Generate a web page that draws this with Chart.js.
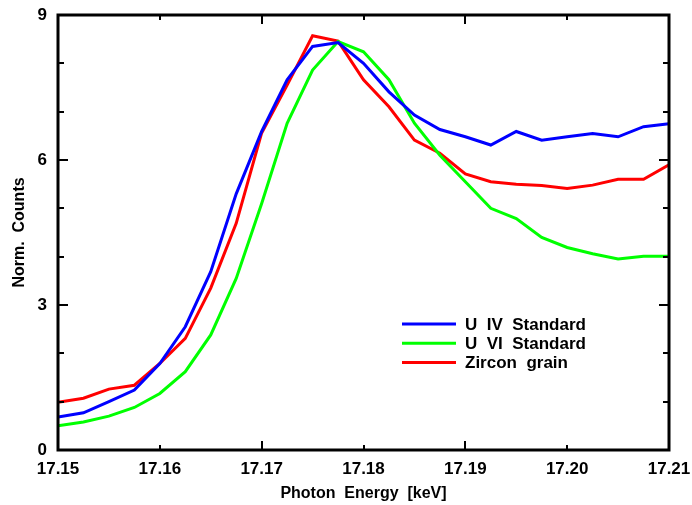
<!DOCTYPE html>
<html>
<head>
<meta charset="utf-8">
<script src="https://cdn.jsdelivr.net/npm/chart.js@4/dist/chart.umd.min.js"></script>
<style>
  html, body { margin: 0; padding: 0; background: #ffffff; }
  canvas { display: block; }
</style>
</head>
<body>
<canvas id="c" width="692" height="505"></canvas>
<script>
// ---- data ----
const energy = [17.1500, 17.1525, 17.1550, 17.1575, 17.1600, 17.1625, 17.1650, 17.1675, 17.1700,
                17.1725, 17.1750, 17.1775, 17.1800, 17.1825, 17.1850, 17.1875, 17.1900, 17.1925,
                17.1950, 17.1975, 17.2000, 17.2025, 17.2050, 17.2075, 17.2100];
const uIV = [0.68, 0.77, 1.00, 1.24, 1.79, 2.55, 3.69, 5.30, 6.59, 7.66, 8.35, 8.43, 8.00, 7.41,
             6.93, 6.63, 6.48, 6.31, 6.59, 6.41, 6.48, 6.55, 6.48, 6.69, 6.75];
const uVI = [0.50, 0.58, 0.70, 0.88, 1.17, 1.62, 2.38, 3.55, 5.10, 6.76, 7.86, 8.45, 8.24, 7.66,
             6.76, 6.10, 5.55, 5.00, 4.79, 4.40, 4.19, 4.06, 3.95, 4.01, 4.01];
const zircon = [0.99, 1.07, 1.26, 1.34, 1.79, 2.31, 3.35, 4.69, 6.56, 7.55, 8.57, 8.46, 7.66, 7.10,
                6.41, 6.14, 5.71, 5.55, 5.50, 5.47, 5.41, 5.48, 5.60, 5.60, 5.90];
const seriesLabels = ['U  IV  Standard', 'U  VI  Standard', 'Zircon  grain'];
const xTickValues = [17.15, 17.16, 17.17, 17.18, 17.19, 17.20, 17.21];
const yLabelValues = [0, 3, 6, 9];
const yTickValues = [0, 1, 2, 3, 4, 5, 6, 7, 8, 9];
const xTitle = 'Photon  Energy  [keV]';
const yTitle = 'Norm.  Counts';

const FONT = '"Liberation Sans", Arial, sans-serif';

function pts(ys) { return energy.map((x, i) => ({ x: x, y: ys[i] })); }

const framePlugin = {
  id: 'frameTicks',
  afterDatasetsDraw(chart) {
    const { ctx, chartArea: a, scales } = chart;
    const xs = scales.x, ys = scales.y;
    ctx.save();
    ctx.strokeStyle = '#000';
    ctx.lineWidth = 3;
    ctx.strokeRect(a.left, a.top, a.right - a.left, a.bottom - a.top);
    ctx.lineWidth = 2;
    ctx.beginPath();
    yTickValues.forEach(v => {
      const y = Math.round(ys.getPixelForValue(v));
      const len = (v % 3 === 0) ? 10 : 6;
      ctx.moveTo(a.left, y); ctx.lineTo(a.left + len, y);
      ctx.moveTo(a.right, y); ctx.lineTo(a.right - len, y);
    });
    xTickValues.forEach((v, i) => {
      const x = Math.round(xs.getPixelForValue(v));
      const len = (i % 2 === 0) ? 9 : 5;
      ctx.moveTo(x, a.bottom); ctx.lineTo(x, a.bottom - len);
      ctx.moveTo(x, a.top); ctx.lineTo(x, a.top + len);
    });
    ctx.stroke();

    // legend
    const lx0 = 402, lx1 = 456, tx = 465, ly0 = 324, dy = 19.3;
    ctx.font = 'bold 17px ' + FONT;
    ctx.textBaseline = 'middle';
    ctx.textAlign = 'left';
    chart.data.datasets.forEach((ds, i) => {
      const y = ly0 + i * dy;
      ctx.strokeStyle = ds.borderColor;
      ctx.lineWidth = 3;
      ctx.beginPath();
      ctx.moveTo(lx0, y); ctx.lineTo(lx1, y);
      ctx.stroke();
      ctx.fillStyle = '#000';
      ctx.fillText(ds.label, tx, y + 1);
    });
    ctx.restore();
  }
};

new Chart(document.getElementById('c'), {
  type: 'line',
  data: {
    datasets: [
      { label: seriesLabels[0], data: pts(uIV), borderColor: '#0000ff' },
      { label: seriesLabels[1], data: pts(uVI), borderColor: '#00ff00' },
      { label: seriesLabels[2], data: pts(zircon), borderColor: '#ff0000' }
    ]
  },
  options: {
    responsive: false,
    devicePixelRatio: 1,
    animation: false,
    layout: { padding: { left: 0, right: 23, top: 15, bottom: 0 } },
    elements: {
      line: { borderWidth: 3, tension: 0, fill: false },
      point: { radius: 0 }
    },
    plugins: {
      legend: { display: false },
      tooltip: { enabled: false }
    },
    scales: {
      x: {
        type: 'linear',
        min: 17.15, max: 17.21,
        afterFit(s) { s.height = 55; s.paddingLeft = 0; s.paddingRight = 0; },
        afterBuildTicks(s) { s.ticks = xTickValues.map(v => ({ value: v })); },
        grid: { display: false, drawTicks: false },
        border: { display: false },
        ticks: {
          autoSkip: false,
          maxRotation: 0,
          padding: 9,
          color: '#000',
          font: { family: FONT, size: 17, weight: 'bold' },
          callback: v => Number(v).toFixed(2)
        },
        title: {
          display: true,
          text: xTitle,
          color: '#000',
          font: { family: FONT, size: 16, weight: 'bold' },
          padding: { top: 0, bottom: 2 }
        }
      },
      y: {
        type: 'linear',
        min: 0, max: 9,
        afterFit(s) { s.width = 58; s.paddingTop = 0; s.paddingBottom = 0; },
        afterBuildTicks(s) { s.ticks = yLabelValues.map(v => ({ value: v })); },
        grid: { display: false, drawTicks: false },
        border: { display: false },
        ticks: {
          padding: 11,
          color: '#000',
          font: { family: FONT, size: 17, weight: 'bold' },
          callback: v => String(v)
        },
        title: {
          display: true,
          text: yTitle,
          color: '#000',
          font: { family: FONT, size: 16, weight: 'bold' },
          padding: { top: 10, bottom: 0 }
        }
      }
    }
  },
  plugins: [framePlugin]
});
</script>
</body>
</html>
